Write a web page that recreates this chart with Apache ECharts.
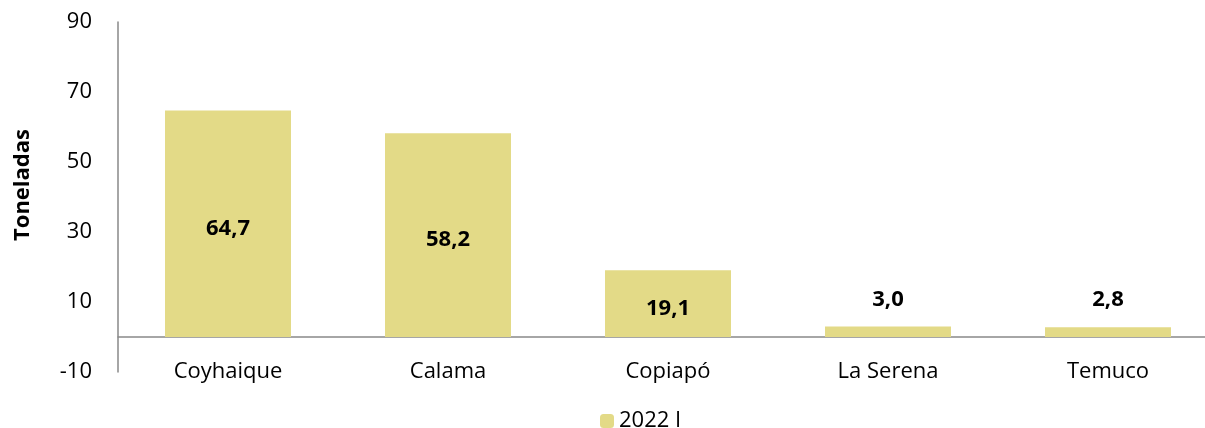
<!DOCTYPE html>
<html>
<head>
<meta charset="utf-8">
<script src="https://cdn.jsdelivr.net/npm/echarts@6/dist/echarts.min.js"></script>
<style>
  html, body { margin: 0; padding: 0; background: #fff; }
  #chart { width: 1205px; height: 428px; }
</style>
</head>
<body>
<div id="chart"></div>
<script>
// datos
var ciudades = ['Coyhaique', 'Calama', 'Copiapó', 'La Serena', 'Temuco'];
var toneladas = [64.7, 58.2, 19.1, 3.0, 2.8];
var ticksY = [-10, 10, 30, 50, 70, 90];
var serieNombre = '2022 I';

var fuente = '"Open Sans", "Noto Sans", sans-serif';
var colorBarra = '#E3DA87';

// etiquetas: dentro de la barra si es alta, encima si es baja
var datos = toneladas.map(function (v) {
    var grande = v > 10;
    return {
        value: v,
        label: grande ? { position: 'inside', offset: [0, 5] } : { position: 'top', distance: 16 }
    };
});

var myChart = echarts.init(document.getElementById('chart'));
var option = {
    animation: false,
    textStyle: { fontFamily: fuente },
    grid: { left: 118, top: 22, width: 1100, height: 350, outerBoundsMode: 'none', containLabel: false },
    legend: {
        top: 405,
        left: 595,
        itemWidth: 14,
        itemHeight: 14,
        itemGap: 8,
        textStyle: { fontFamily: fuente, fontSize: 22, color: '#000' },
        data: [serieNombre]
    },
    xAxis: {
        type: 'category',
        data: ciudades,
        axisLine: { lineStyle: { color: '#898989', width: 1.5 } },
        axisTick: { show: false },
        axisLabel: { color: '#000', fontSize: 22, margin: -11, fontFamily: fuente }
    },
    yAxis: {
        type: 'value',
        min: -10,
        max: 90,
        name: 'Toneladas',
        nameLocation: 'middle',
        nameGap: 84,
        nameTextStyle: { color: '#000', fontSize: 22, fontWeight: 'bold', fontFamily: fuente, padding: [0, 0, 0, 24] },
        axisLine: { show: true, lineStyle: { color: '#898989', width: 1.5 } },
        axisTick: { show: false },
        splitLine: { show: false },
        axisLabel: {
            color: '#000', fontSize: 22, margin: 26, fontFamily: fuente,
            customValues: ticksY
        }
    },
    series: [{
        name: serieNombre,
        type: 'bar',
        barWidth: 126,
        itemStyle: { color: colorBarra },
        label: {
            show: true,
            color: '#000',
            fontSize: 22,
            fontWeight: 'bold',
            fontFamily: fuente,
            formatter: function (p) { return p.value.toFixed(1).replace('.', ','); }
        },
        data: datos
    }]
};
myChart.setOption(option);
</script>
</body>
</html>
